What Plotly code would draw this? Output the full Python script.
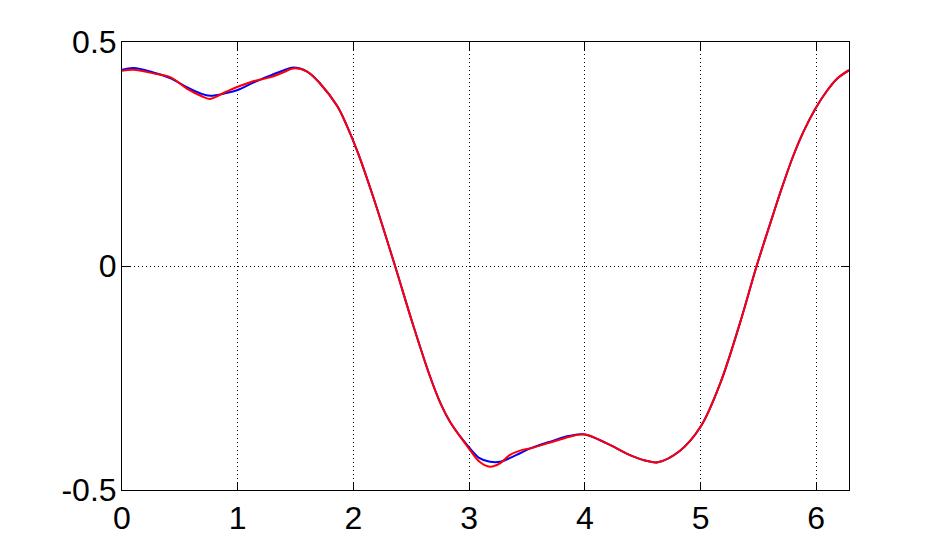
import plotly.graph_objects as go

# sample positions along the x axis (0 .. 2*pi)
x_vals = [0.0, 0.1, 0.27, 0.42, 0.56, 0.68, 0.76, 0.9, 1.0, 1.14, 1.28, 1.4, 1.48,
          1.6, 1.71, 1.86, 1.94, 2.04, 2.17, 2.36, 2.52, 2.66, 2.75, 2.84, 3.0, 3.09,
          3.18, 3.27, 3.35, 3.44, 3.53, 3.7, 3.87, 4.0, 4.19, 4.39, 4.52, 4.63, 4.82,
          5.0, 5.17, 5.34, 5.485, 5.63, 5.7, 5.8, 5.89, 5.99, 6.09, 6.18, 6.2832]

# exact curve (blue)
blue_vals = [0.438, 0.442, 0.432, 0.419, 0.399, 0.385, 0.380, 0.386, 0.393, 0.410,
             0.425, 0.437, 0.443, 0.434, 0.408, 0.357, 0.315, 0.252, 0.155, 0.0,
             -0.135, -0.245, -0.305, -0.350, -0.405, -0.429, -0.437, -0.437, -0.429,
             -0.418, -0.407, -0.392, -0.379, -0.376, -0.396, -0.422, -0.434, -0.438,
             -0.413, -0.359, -0.262, -0.128, 0.0, 0.117, 0.172, 0.245, 0.300, 0.350,
             0.390, 0.418, 0.437]

# approximation (red), slightly wavy
red_vals = [0.436, 0.438, 0.430, 0.421, 0.396, 0.380, 0.373, 0.389, 0.400, 0.413,
            0.421, 0.433, 0.441, 0.434, 0.408, 0.357, 0.315, 0.252, 0.155, 0.0,
            -0.135, -0.245, -0.305, -0.350, -0.408, -0.437, -0.448, -0.440, -0.422,
            -0.412, -0.407, -0.394, -0.381, -0.376, -0.396, -0.422, -0.434, -0.438,
            -0.413, -0.359, -0.262, -0.128, 0.0, 0.117, 0.172, 0.245, 0.300, 0.350,
            0.390, 0.418, 0.437]

x_ticks = [0, 1, 2, 3, 4, 5, 6]
y_ticks = [-0.5, 0, 0.5]
y_tick_text = ["-0.5", "0", "0.5"]

fig = go.Figure()
fig.add_trace(go.Scatter(x=x_vals, y=blue_vals, mode="lines",
                         line=dict(color="rgb(0,0,255)", width=2, shape="spline", smoothing=1.0)))
fig.add_trace(go.Scatter(x=x_vals, y=red_vals, mode="lines",
                         line=dict(color="rgb(255,0,0)", width=2, shape="spline", smoothing=1.0)))

axis_common = dict(
    showline=True, linecolor="black", linewidth=1, mirror="ticks",
    ticks="inside", ticklen=8, tickcolor="black",
    showgrid=True, gridcolor="black", gridwidth=1, griddash="1px,3px",
    zeroline=False, automargin=False,
    tickfont=dict(family="Liberation Sans, Arial, sans-serif", size=32, color="black"),
)

fig.update_xaxes(range=[0, 6.2832], tickvals=x_ticks, ticklabelstandoff=0, **axis_common)
fig.update_yaxes(range=[-0.5, 0.5], tickvals=y_ticks, ticktext=y_tick_text,
                 ticklabelstandoff=-2, **axis_common)

# the page body adds an 8px offset, so margins are shifted to compensate
fig.update_layout(
    width=938, height=551,
    margin=dict(l=114, r=97, t=34, b=69),
    paper_bgcolor="white", plot_bgcolor="white",
    showlegend=False,
)

fig.write_html("out.html")
